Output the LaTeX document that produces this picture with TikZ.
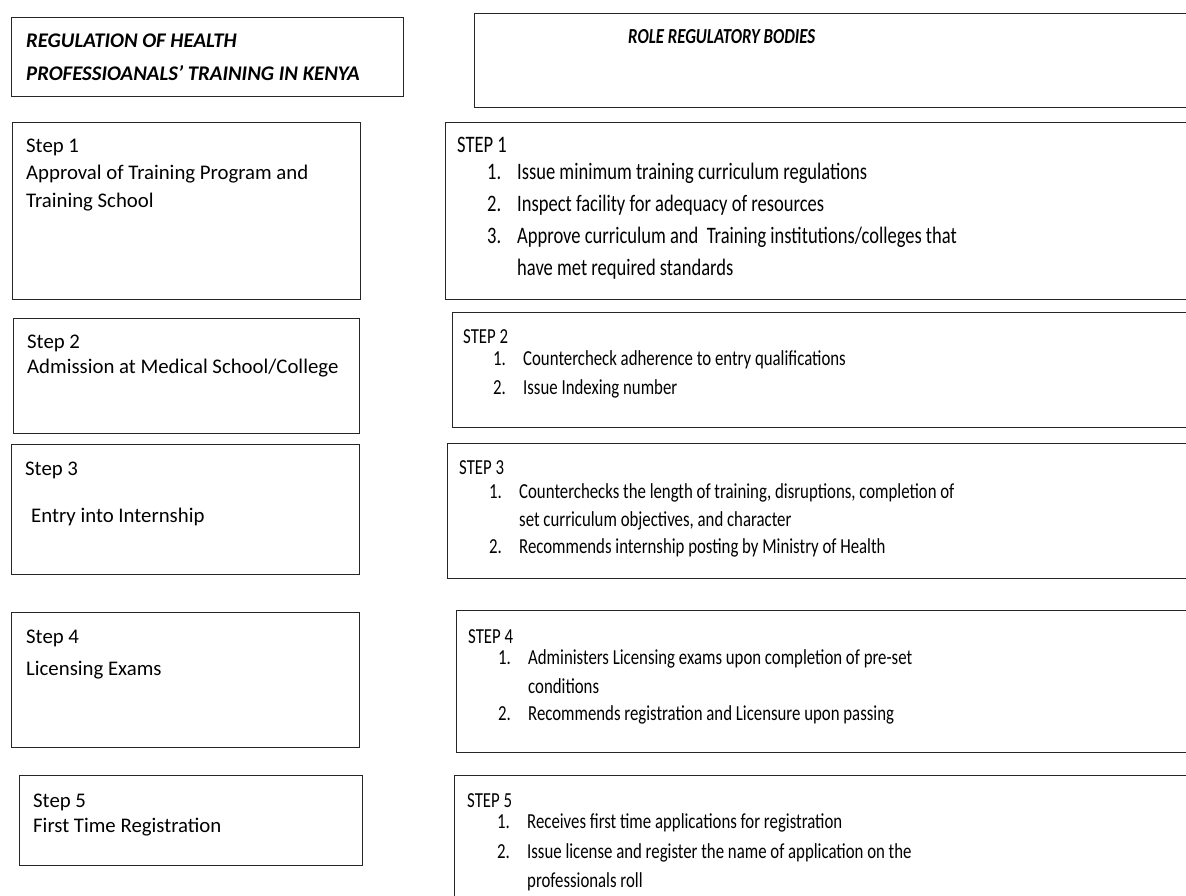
\documentclass[tikz,border=0pt]{standalone}
\usepackage{fontspec}
\setmainfont{Carlito}
\newfontfamily\narrowfont[FakeStretch=0.785]{Carlito}
\usetikzlibrary{positioning}
\tikzset{box/.style={rectangle,draw=black!85,line width=1.1pt,anchor=north west,inner sep=0pt},
  headtext/.style={anchor=base west,inner sep=0pt,align=left,font=\bfseries\itshape\fontsize{20.8}{33}\selectfont},
  lefttext/.style={anchor=base west,inner sep=0pt,align=left,font=\fontsize{20.8}{27.5}\selectfont},
  righttext/.style={anchor=base west,inner sep=0pt,align=left,font=\narrowfont\fontsize{21.4}{29}\selectfont}}
\newcommand{\dutyitem}[2]{\hspace*{30pt}\makebox[30pt][l]{#1}#2}
\newcommand{\dutycont}[1]{\hspace*{60pt}#1}

\begin{document}
\begin{tikzpicture}[x=1pt,y=-1pt]
\useasboundingbox (0,0) rectangle (1186,895);
\clip (0,0) rectangle (1186,895);
% headings (text nodes sit on the baseline of their last line)
\node[box,minimum width=392,minimum height=79] (head) at (11,17) {};
\node[box,minimum width=726,minimum height=94] (role) at (474,13) {};
\node[headtext] (headt) at ([shift={(15,63)}]head.north west) {REGULATION OF HEALTH\\PROFESSIOANALS’ TRAINING IN KENYA};
\node[headtext,font=\narrowfont\bfseries\itshape\fontsize{21.4}{29}\selectfont] (rolet) at ([shift={(154,30)}]role.north west) {ROLE REGULATORY BODIES};
% training steps (left column)
\node[box,minimum width=348,minimum height=177] (s1) at (12,122) {};
\node[box,minimum width=346,minimum height=115] (s2) at (13,318) {};
\node[box,minimum width=348,minimum height=130] (s3) at (11,444) {};
\node[box,minimum width=348,minimum height=135] (s4) at (11,612) {};
\node[box,minimum width=343,minimum height=90] (s5) at (19,775) {};
\node[lefttext] (s1t) at ([shift={(14,85)}]s1.north west) {Step 1\\Approval of Training Program and\\Training School};
\node[lefttext] (s2t) at ([shift={(14,55)}]s2.north west) {Step 2\\[-2.5pt]Admission at Medical School/College};
\node[lefttext] (s3t) at ([shift={(14,78)}]s3.north west) {Step 3\\[19.5pt]\hspace*{6pt}Entry into Internship};
\node[lefttext] (s4t) at ([shift={(15,63)}]s4.north west) {Step 4\\[4.5pt]Licensing Exams};
\node[lefttext] (s5t) at ([shift={(14,57)}]s5.north west) {Step 5\\[-2.5pt]First Time Registration};
% role of the bodies (right column)
\node[box,minimum width=760,minimum height=177] (r1) at (445,122) {};
\node[box,minimum width=760,minimum height=115] (r2) at (452,312) {};
\node[box,minimum width=760,minimum height=135] (r3) at (447,443) {};
\node[box,minimum width=760,minimum height=142] (r4) at (456,610) {};
\node[box,minimum width=760,minimum height=150] (r5) at (454,775) {};
\node[righttext,font=\narrowfont\fontsize{23.6}{32}\selectfont] (r1t) at ([shift={(12,153)}]r1.north west) {STEP 1\\[-5pt]
  \dutyitem{1.}{Issue minimum training curriculum regulations}\\
  \dutyitem{2.}{Inspect facility for adequacy of resources}\\
  \dutyitem{3.}{Approve curriculum and\ \ Training institutions/colleges that}\\
  \dutycont{have met required standards}};
\node[righttext] (r2t) at ([shift={(11,82)}]r2.north west) {STEP 2\\[-7pt]
  \dutyitem{1.}{Countercheck adherence to entry qualifications}\\
  \dutyitem{2.}{Issue Indexing number}};
\node[righttext,font=\narrowfont\fontsize{21.4}{28.5}\selectfont] (r3t) at ([shift={(12,110)}]r3.north west) {STEP 3\\[-4.5pt]
  \dutyitem{1.}{Counterchecks the length of training, disruptions, completion of}\\
  \dutycont{set curriculum objectives, and character}\\[-2pt]
  \dutyitem{2.}{Recommends internship posting by Ministry of Health}};
\node[righttext] (r4t) at ([shift={(12,110)}]r4.north west) {STEP 4\\[-8pt]
  \dutyitem{1.}{Administers Licensing exams upon completion of pre-set}\\
  \dutycont{conditions}\\[-2pt]
  \dutyitem{2.}{Recommends registration and Licensure upon passing}};
\node[righttext] (r5t) at ([shift={(13,112)}]r5.north west) {STEP 5\\[-8pt]
  \dutyitem{1.}{Receives first time applications for registration}\\[1pt]
  \dutyitem{2.}{Issue license and register the name of application on the}\\
  \dutycont{professionals roll}};
\end{tikzpicture}
\end{document}
